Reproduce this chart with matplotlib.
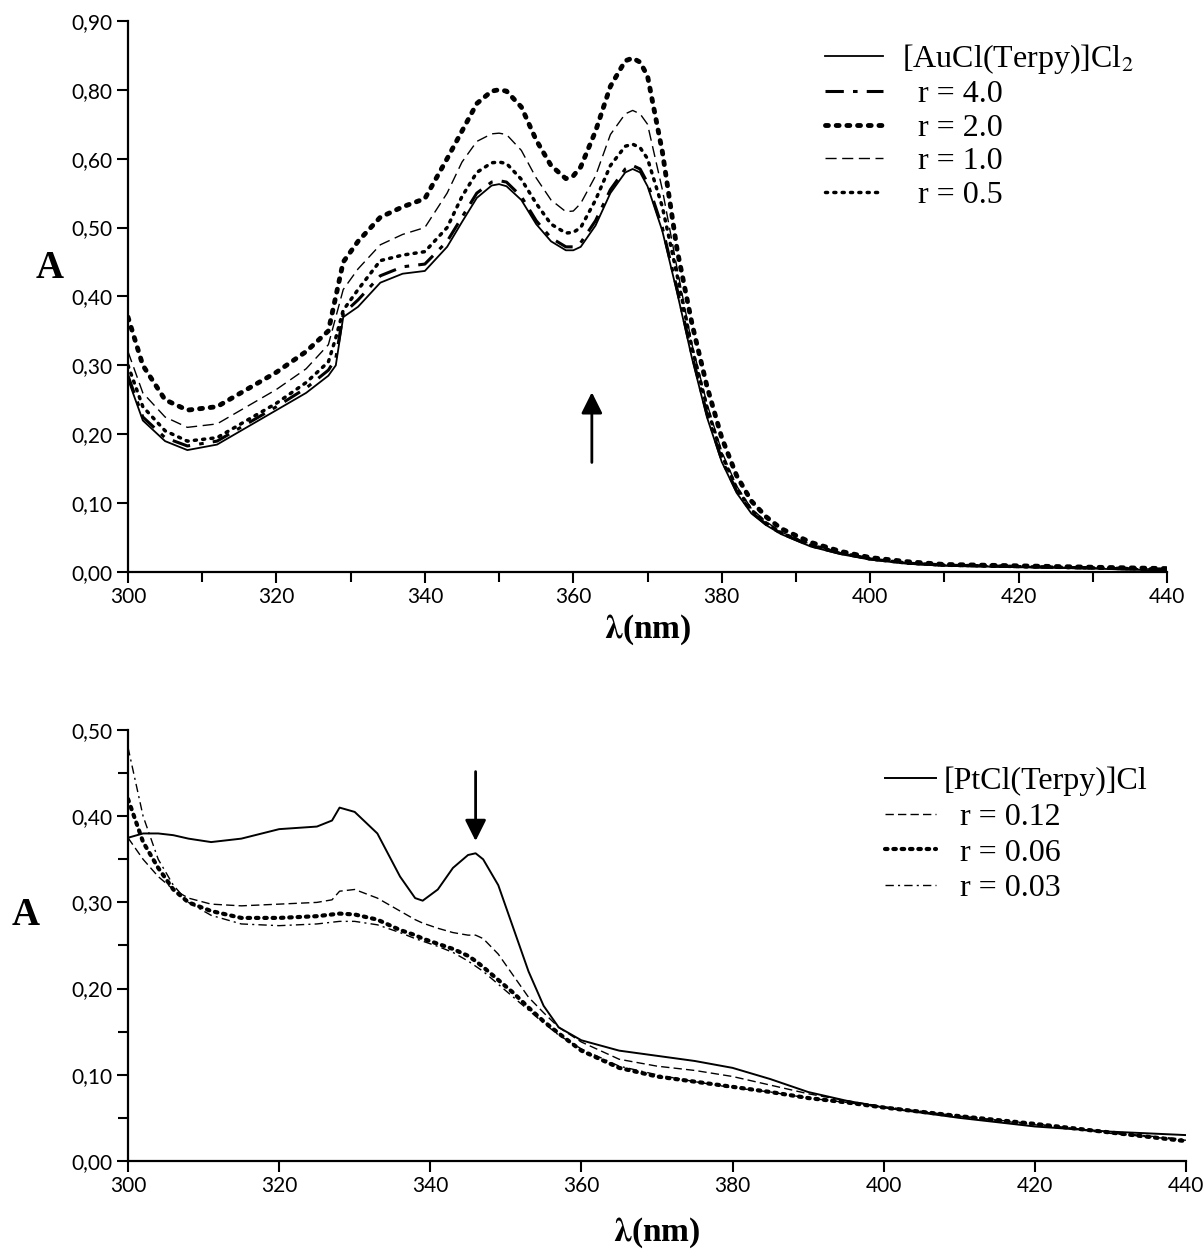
import matplotlib
matplotlib.use("Agg")
import matplotlib.pyplot as plt
from matplotlib.ticker import FuncFormatter, MultipleLocator, FixedLocator, FixedFormatter

plt.rcParams["mathtext.fontset"] = "stix"

# ---- top panel: [AuCl(Terpy)]Cl2 ----
# (the original y axis is printed with "0,80" / "0,90" where 0.70 / 0.80 belong)
au_ticks = [0.0, 0.1, 0.2, 0.3, 0.4, 0.5, 0.6, 0.7, 0.8]
au_tick_labels = ["0,00", "0,10", "0,20", "0,30", "0,40", "0,50", "0,60", "0,80", "0,90"]

wl_au = [300, 302, 305, 308, 312, 316, 320, 324, 327, 328, 329, 331, 334, 337, 340,
         343, 345, 347, 349, 350, 351, 353, 355, 357, 359, 360, 361, 363, 365, 367, 368, 369, 370,
         372, 374, 376, 378, 380, 382, 384, 386, 388, 392, 396, 400, 405, 410, 420, 430, 440]
au_ref = [0.28, 0.22, 0.19, 0.177, 0.185, 0.21, 0.235, 0.26, 0.285, 0.30, 0.37, 0.385, 0.42, 0.433, 0.437,
          0.472, 0.508, 0.543, 0.561, 0.563, 0.56, 0.54, 0.505, 0.48, 0.467, 0.467, 0.472, 0.503, 0.55, 0.58, 0.585, 0.58, 0.56,
          0.495, 0.405, 0.31, 0.225, 0.16, 0.115, 0.085, 0.068, 0.055, 0.037, 0.026, 0.018, 0.012, 0.009, 0.007, 0.005, 0.002]
au_r40 = [0.285, 0.225, 0.195, 0.183, 0.19, 0.215, 0.24, 0.267, 0.293, 0.31, 0.375, 0.395, 0.43, 0.443, 0.447,
          0.48, 0.515, 0.55, 0.566, 0.568, 0.566, 0.545, 0.51, 0.485, 0.472, 0.472, 0.478, 0.51, 0.555, 0.585, 0.59, 0.585, 0.565,
          0.50, 0.41, 0.315, 0.23, 0.163, 0.118, 0.087, 0.069, 0.056, 0.038, 0.027, 0.019, 0.013, 0.01, 0.008, 0.006, 0.003]
au_r20 = [0.37, 0.30, 0.25, 0.235, 0.24, 0.265, 0.29, 0.32, 0.35, 0.40, 0.45, 0.48, 0.515, 0.53, 0.542,
          0.60, 0.64, 0.68, 0.698, 0.70, 0.698, 0.675, 0.627, 0.59, 0.571, 0.575, 0.588, 0.64, 0.705, 0.742, 0.746, 0.74, 0.72,
          0.61, 0.467, 0.36, 0.27, 0.195, 0.14, 0.103, 0.08, 0.063, 0.043, 0.03, 0.021, 0.015, 0.011, 0.009, 0.007, 0.005]
au_r10 = [0.32, 0.26, 0.225, 0.21, 0.215, 0.24, 0.265, 0.295, 0.33, 0.37, 0.41, 0.44, 0.475, 0.49, 0.50,
          0.55, 0.595, 0.625, 0.636, 0.637, 0.635, 0.612, 0.572, 0.54, 0.523, 0.524, 0.535, 0.575, 0.635, 0.665, 0.67, 0.665, 0.65,
          0.555, 0.44, 0.33, 0.245, 0.175, 0.125, 0.092, 0.073, 0.058, 0.04, 0.028, 0.019, 0.013, 0.01, 0.008, 0.006, 0.004]
au_r05 = [0.30, 0.24, 0.205, 0.19, 0.195, 0.22, 0.245, 0.275, 0.305, 0.34, 0.38, 0.41, 0.452, 0.46, 0.465,
          0.50, 0.545, 0.58, 0.594, 0.595, 0.593, 0.57, 0.535, 0.505, 0.492, 0.493, 0.50, 0.54, 0.59, 0.618, 0.621, 0.616, 0.60,
          0.53, 0.43, 0.325, 0.24, 0.17, 0.122, 0.09, 0.071, 0.057, 0.039, 0.028, 0.019, 0.013, 0.01, 0.008, 0.006, 0.004]

# ---- bottom panel: [PtCl(Terpy)]Cl ----
wl_pt = [300, 302, 304, 306, 308, 311, 315, 320, 325, 327, 328, 330, 333, 336, 338, 339, 341, 343,
         345, 346, 347, 349, 351, 353, 355, 357, 360, 365, 370, 375, 380, 385, 390, 395, 400, 410,
         420, 430, 440]
pt_ref = [0.375, 0.38, 0.38, 0.378, 0.374, 0.37, 0.374, 0.385, 0.388, 0.395, 0.41, 0.405, 0.38, 0.33, 0.305, 0.302, 0.315, 0.34,
          0.355, 0.357, 0.35, 0.32, 0.27, 0.22, 0.18, 0.155, 0.14, 0.128, 0.122, 0.116, 0.108, 0.095, 0.08, 0.07, 0.062, 0.05,
          0.04, 0.034, 0.03]
pt_r012 = [0.375, 0.35, 0.33, 0.315, 0.305, 0.298, 0.296, 0.298, 0.30, 0.303, 0.313, 0.315, 0.305, 0.29, 0.28, 0.276, 0.27, 0.265,
           0.262, 0.262, 0.258, 0.24, 0.215, 0.19, 0.172, 0.155, 0.138, 0.118, 0.11, 0.105, 0.098, 0.088, 0.078, 0.07, 0.063, 0.052,
           0.042, 0.032, 0.024]
pt_r006 = [0.42, 0.37, 0.34, 0.315, 0.30, 0.29, 0.282, 0.282, 0.284, 0.286, 0.287, 0.286, 0.28, 0.268, 0.262, 0.258, 0.252, 0.246,
           0.238, 0.232, 0.225, 0.21, 0.195, 0.178, 0.162, 0.148, 0.128, 0.108, 0.098, 0.092, 0.086, 0.08, 0.073, 0.068, 0.062, 0.052,
           0.043, 0.033, 0.023]
pt_r003 = [0.48, 0.40, 0.35, 0.32, 0.30, 0.285, 0.275, 0.273, 0.275, 0.277, 0.278, 0.278, 0.274, 0.265, 0.258, 0.255, 0.249, 0.242,
           0.232, 0.226, 0.22, 0.205, 0.19, 0.175, 0.16, 0.146, 0.13, 0.11, 0.1, 0.092, 0.085, 0.08, 0.073, 0.068, 0.062, 0.052,
           0.043, 0.033, 0.025]

tick_font = "Lato"
serif = "Liberation Serif"
comma = FuncFormatter(lambda v, p: f"{v:.2f}".replace(".", ","))
leg_font = {"family": serif, "size": 23}

fig = plt.figure(figsize=(12.04, 12.49), dpi=100)
ax1 = fig.add_axes([0.1063, 0.542, 0.863, 0.4413])
ax2 = fig.add_axes([0.1063, 0.0705, 0.8787, 0.345])

for ax in (ax1, ax2):
    for s in ("top", "right"):
        ax.spines[s].set_visible(False)
    for s in ("left", "bottom"):
        ax.spines[s].set_linewidth(1.6)
    ax.set_xlim(300, 440)
    ax.xaxis.set_major_locator(MultipleLocator(20))
    ax.tick_params(which="both", direction="out", width=1.5, labelsize=15, pad=3)
    ax.tick_params(which="major", length=8)
    ax.tick_params(which="minor", length=7)
    ax.set_xlabel(r"$\mathbf{\lambda}$(nm)", fontsize=24, fontweight="bold", family=serif)
    ax.set_ylabel("A", fontsize=28, fontweight="bold", family=serif, rotation=0, va="center", ha="center")

ax1.set_ylim(0, 0.8)
ax1.yaxis.set_major_locator(FixedLocator(au_ticks))
ax1.yaxis.set_major_formatter(FixedFormatter(au_tick_labels))
ax1.xaxis.set_minor_locator(MultipleLocator(10))
ax1.xaxis.labelpad = 4
ax1.yaxis.set_label_coords(-0.075, 0.55)
ax1.plot(wl_au, au_ref, color="k", lw=1.3, ls="-", label="[AuCl(Terpy)]Cl$_2$")
ax1.plot(wl_au, au_r40, color="k", lw=2.2, ls=(0, (6, 3, 1.5, 3)), label="  r = 4.0")
ax1.plot(wl_au, au_r20, color="k", lw=3.5, ls=(0, (0.6, 1.6)), dash_capstyle="round", label="  r = 2.0")
ax1.plot(wl_au, au_r10, color="k", lw=1.0, ls=(0, (8, 4)), label="  r = 1.0")
ax1.plot(wl_au, au_r05, color="k", lw=2.5, ls=(0, (0.6, 1.8)), dash_capstyle="round", label="  r = 0.5")
ax1.annotate("", xy=(362.5, 0.265), xytext=(362.5, 0.155),
             arrowprops=dict(arrowstyle="-|>", lw=2, color="k", mutation_scale=32))
ax1.legend(loc="upper left", bbox_to_anchor=(0.671, 0.962), frameon=False, prop=leg_font,
           handlelength=1.8, handletextpad=0.6, labelspacing=0.13, borderpad=0, borderaxespad=0)

ax2.set_ylim(0, 0.5)
ax2.yaxis.set_major_locator(MultipleLocator(0.1))
ax2.yaxis.set_minor_locator(MultipleLocator(0.05))
ax2.yaxis.set_major_formatter(comma)
ax2.xaxis.labelpad = 14
ax2.yaxis.set_label_coords(-0.097, 0.57)
ax2.plot(wl_pt, pt_ref, color="k", lw=1.4, ls="-", label="[PtCl(Terpy)]Cl")
ax2.plot(wl_pt, pt_r012, color="k", lw=1.0, ls=(0, (6, 3)), label="  r = 0.12")
ax2.plot(wl_pt, pt_r006, color="k", lw=3.0, ls=(0, (0.6, 1.4)), dash_capstyle="round", label="  r = 0.06")
ax2.plot(wl_pt, pt_r003, color="k", lw=1.0, ls=(0, (6, 3, 1.5, 3)), label="  r = 0.03")
ax2.annotate("", xy=(346, 0.368), xytext=(346, 0.455),
             arrowprops=dict(arrowstyle="-|>", lw=2, color="k", mutation_scale=32))
ax2.legend(loc="upper left", bbox_to_anchor=(0.7155, 0.915), frameon=False, prop=leg_font,
           handlelength=1.6, handletextpad=0.25, labelspacing=0.2, borderpad=0, borderaxespad=0)

for ax in (ax1, ax2):
    for lab in ax.get_xticklabels() + ax.get_yticklabels():
        lab.set_fontfamily(tick_font)

fig.savefig("out.png", dpi=100)
